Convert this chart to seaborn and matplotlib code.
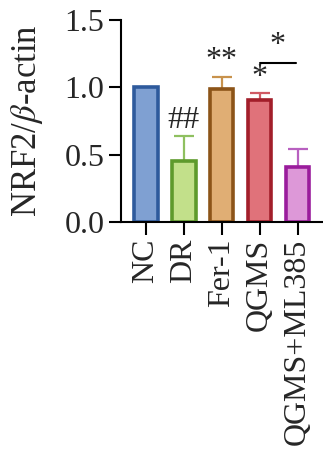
import matplotlib
matplotlib.use("Agg")
import matplotlib.pyplot as plt
import seaborn as sns
import pandas as pd

groups = ["NC", "DR", "Fer-1", "QGMS", "QGMS+ML385"]
means = [1.0, 0.455, 0.985, 0.905, 0.405]
sd_up = [0.0, 0.18, 0.095, 0.05, 0.14]
marks = ["", "##", "**", "*", ""]

face_colors = ["#7fa0d2", "#c2e08a", "#e0ae74", "#e0727a", "#dd98d8"]
edge_colors = ["#2e5a9c", "#5e9a2c", "#8c5418", "#a21e2a", "#9a1c9c"]
err_colors = ["#5a7fc0", "#8fc060", "#c8924c", "#d05a64", "#b860c0"]

sns.set_style("ticks")
plt.rcParams["font.family"] = ["Liberation Serif", "DejaVu Serif"]
plt.rcParams["mathtext.fontset"] = "stix"

df = pd.DataFrame({"group": groups, "value": means})

fig = plt.figure(figsize=(3.23, 4.54), dpi=100)
ax = fig.add_axes([0.375, 0.511, 0.625, 0.445])

sns.barplot(data=df, x="group", y="value", hue="group", palette=face_colors,
            saturation=1, legend=False, errorbar=None, width=0.62, ax=ax, zorder=2)
for bar, ec in zip(ax.patches, edge_colors):
    bar.set_edgecolor(ec)
    bar.set_linewidth(2.6)

for i, (m, e) in enumerate(zip(means, sd_up)):
    if e > 0:
        ax.errorbar(i, m, yerr=[[0], [e]], fmt="none", ecolor=err_colors[i],
                    elinewidth=1.6, capsize=7, capthick=1.6, zorder=1)

for i, (m, e, t) in enumerate(zip(means, sd_up, marks)):
    if t:
        ax.text(i, m + e + 0.01, t, ha="center", va="bottom", fontsize=23)

# significance bracket between QGMS and QGMS+ML385
ax.plot([3.0, 3.95], [1.18, 1.18], color="black", lw=1.5)
ax.text(3.48, 1.2, "*", ha="center", va="bottom", fontsize=23)

ax.set_xlim(-0.65, 4.67)
ax.set_ylim(0, 1.5)
ax.set_yticks([0, 0.5, 1.0, 1.5])
ax.set_yticklabels(["0.0", "0.5", "1.0", "1.5"])
ax.set_xlabel("")
ax.set_ylabel(r"NRF2/$\beta$-actin", fontsize=25, labelpad=14)
ax.tick_params(axis="both", labelsize=23, width=1.5, length=9, pad=3, color="black")
ax.tick_params(axis="x", labelrotation=90)
for s in ["left", "bottom"]:
    ax.spines[s].set_linewidth(1.5)
    ax.spines[s].set_color("black")
sns.despine(ax=ax)

fig.savefig("out.png", dpi=100)
